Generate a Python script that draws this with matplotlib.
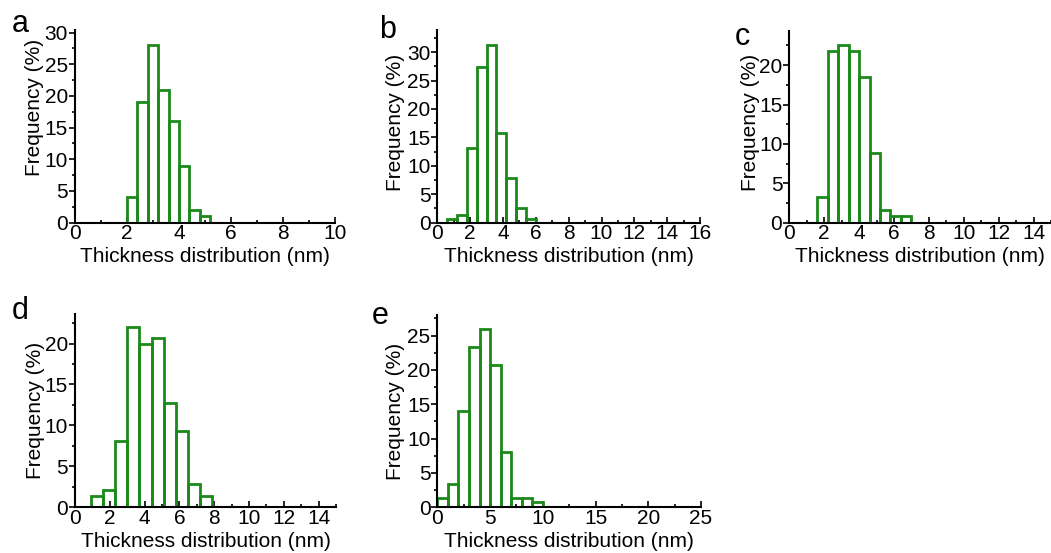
import matplotlib
matplotlib.use("Agg")
import matplotlib.pyplot as plt
from matplotlib.ticker import MultipleLocator

plt.rcParams['font.family'] = ['Liberation Sans', 'DejaVu Sans']

# left edges of each bin (nm) and frequency (%)
a_bins = [2.0, 2.4, 2.8, 3.2, 3.6, 4.0, 4.4, 4.8]
a_freq = [4, 19, 28, 21, 16, 9, 2, 1]

b_bins = [0.6, 1.2, 1.8, 2.4, 3.0, 3.6, 4.2, 4.8, 5.4]
b_freq = [0.7, 1.3, 13.1, 27.4, 31.3, 15.7, 7.8, 2.6, 0.7]

c_bins = [1.6, 2.2, 2.8, 3.4, 4.0, 4.6, 5.2, 5.8, 6.4]
c_freq = [3.2, 21.8, 22.6, 21.8, 18.5, 8.9, 1.6, 0.8, 0.8]

d_bins = [0.9, 1.6, 2.3, 3.0, 3.7, 4.4, 5.1, 5.8, 6.5, 7.2]
d_freq = [1.4, 2.1, 8.1, 22.0, 20.0, 20.7, 12.7, 9.3, 2.8, 1.4]

e_bins = [0, 1, 2, 3, 4, 5, 6, 7, 8, 9]
e_freq = [1.4, 3.4, 14.0, 23.3, 26.0, 20.7, 8.1, 1.3, 1.3, 0.8]

GREEN = '#1b8a1b'
FS = 15

fig = plt.figure(figsize=(10.51, 5.53), dpi=100)

panels = [
    # letter, bins, freq, width, rect, xlim, xmajor, ylim, letter pos, ylabel pos
    ('a', a_bins, a_freq, 0.4, [0.0714, 0.5973, 0.2474, 0.3485], 10, 2, 30.4, (20, 24), (-0.154, 0.6)),
    ('b', b_bins, b_freq, 0.6, [0.4161, 0.5973, 0.2500, 0.3485], 16, 2, 33.9, (388, 30), (-0.161, 0.52)),
    ('c', c_bins, c_freq, 0.6, [0.7510, 0.5973, 0.2490, 0.3475], 15, 2, 24.4, (742, 37), (-0.150, 0.52)),
    ('d', d_bins, d_freq, 0.7, [0.0714, 0.0826, 0.2483, 0.3495], 15, 2, 23.6, (20, 311), (-0.153, 0.5)),
    ('e', e_bins, e_freq, 1.0, [0.4161, 0.0826, 0.2509, 0.3477], 25, 5, 28.0, (380, 316), (-0.160, 0.5)),
]

for letter, bins, freq, w, rect, xmax, xmaj, ymax, lpos, ylpos in panels:
    ax = fig.add_axes(rect)
    ax.bar(bins, freq, width=w, align='edge', fill=False,
           edgecolor=GREEN, linewidth=2.0, zorder=2)
    ax.set_xlim(0, xmax)
    ax.set_ylim(0, ymax)
    ax.xaxis.set_major_locator(MultipleLocator(xmaj))
    ax.xaxis.set_minor_locator(MultipleLocator(xmaj / 2))
    ax.yaxis.set_major_locator(MultipleLocator(5))
    ax.yaxis.set_minor_locator(MultipleLocator(2.5))
    for s in ['top', 'right']:
        ax.spines[s].set_visible(False)
    for s in ['left', 'bottom']:
        ax.spines[s].set_linewidth(1.5)
        ax.spines[s].set_zorder(3)
    ax.tick_params(axis='x', which='both', direction='in', labelsize=FS, pad=1, width=1.2)
    ax.tick_params(axis='x', which='major', length=4)
    ax.tick_params(axis='x', which='minor', length=2.5)
    ax.tick_params(axis='y', which='both', direction='out', labelsize=FS, pad=1, width=1.2)
    ax.tick_params(axis='y', which='major', length=4)
    ax.tick_params(axis='y', which='minor', length=2.5)
    ax.set_xlabel('Thickness distribution (nm)', fontsize=FS, labelpad=3)
    ax.set_ylabel('Frequency (%)', fontsize=FS, va='center')
    ax.yaxis.set_label_coords(*ylpos)
    fig.text(lpos[0] / 1051, 1 - lpos[1] / 553, letter, fontsize=22,
             ha='center', va='center')

fig.savefig('out.png', dpi=100)
